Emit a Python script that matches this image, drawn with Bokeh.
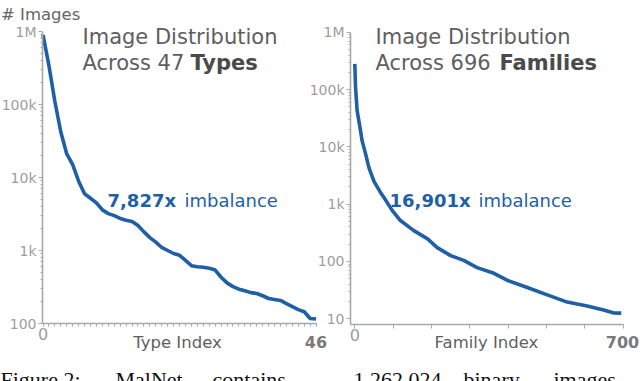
import math
from bokeh.plotting import figure
from bokeh.layouts import row
from bokeh.models import Range1d, FixedTicker, CustomJSTickFormatter, Label
from bokeh.embed import file_html
from bokeh.resources import INLINE

# ---------------- data ----------------
type_index = list(range(47))
type_counts = [900000, 340000, 110000, 42000, 21000, 15000, 8900, 6000, 5200, 4500,
               3600, 3200, 3000, 2750, 2600, 2500, 2200, 1800, 1500, 1300,
               1100, 1000, 910, 860, 730, 620, 600, 590, 570, 540,
               430, 360, 320, 295, 280, 265, 258, 240, 220, 213,
               207, 187, 170, 155, 145, 117, 115]

family_index = [0, 2, 6, 15, 19, 28, 37, 50, 67, 76, 98, 119, 154, 189, 215, 250,
                284, 319, 363, 397, 450, 502, 554, 606, 649, 676, 695]
family_counts = [280000, 108000, 43000, 19000, 12800, 7600, 4300, 2500, 1600, 1300,
                 770, 516, 345, 250, 174, 126, 104, 78, 62, 47, 35, 26, 19.5,
                 16.6, 14.2, 12.6, 12.5]

left_y_ticks = [100, 1e3, 1e4, 1e5, 1e6]
right_y_ticks = [10, 100, 1e3, 1e4, 1e5, 1e6]
right_x_ticks = [0, 100, 200, 300, 400, 500, 600, 700]

# ---------------- style ----------------
BLUE = "#1f5fa8"
TITLE = "#5e5e5e"
TITLE_BOLD = "#4a4a4a"
TICK = "#9d9d9d"
AXIS = "#a9a9a9"
FONT = "DejaVu Sans"
SERIF = "Liberation Serif"
H = 381

fmt_code = """
if (tick >= 1e6) return (tick/1e6).toFixed(0) + 'M';
if (tick >= 1e3) return (tick/1e3).toFixed(0) + 'k';
return tick.toFixed(0);
"""


def ranges(width, x_at_px, x_per_px, y_top_val, y_top_px, px_per_decade):
    """Ranges spanning the whole canvas, from a known x origin / scale and log-y calibration."""
    x0 = -x_at_px / x_per_px
    x1 = (width - x_at_px) / x_per_px
    lt = math.log10(y_top_val) + y_top_px / px_per_decade
    lb = math.log10(y_top_val) - (H - y_top_px) / px_per_decade
    return (x0, x1), (10 ** lb, 10 ** lt)


def make_fig(width, xr, yr, y_axis_x, x_axis_y, xb, yb):
    p = figure(width=width, height=H, x_range=Range1d(*xr), y_range=Range1d(*yr),
               y_axis_type="log", output_backend="svg", toolbar_location=None,
               min_border=0, min_border_left=0, min_border_right=0,
               min_border_top=0, min_border_bottom=0)
    p.grid.visible = False
    p.outline_line_color = None
    p.background_fill_color = None
    p.border_fill_color = None
    for ax in (p.xaxis[0], p.yaxis[0]):
        ax.axis_line_color = AXIS
        ax.axis_line_width = 1.6
        ax.major_tick_line_color = AXIS
        ax.minor_tick_line_color = AXIS
        ax.major_tick_in = 0
        ax.minor_tick_in = 0
        ax.major_label_text_font = FONT
        ax.major_label_text_color = TICK
    ya = p.yaxis[0]
    ya.fixed_location = y_axis_x
    ya.bounds = yb
    ya.major_tick_out = 4
    ya.minor_tick_out = 2
    ya.major_label_text_font_size = "14px"
    ya.major_label_standoff = 2
    ya.formatter = CustomJSTickFormatter(code=fmt_code)
    xa = p.xaxis[0]
    xa.fixed_location = x_axis_y
    xa.bounds = xb
    xa.major_tick_out = 3
    xa.minor_tick_out = 3
    xa.major_label_text_font_size = "16px"
    xa.major_label_standoff = 1
    xa.formatter = CustomJSTickFormatter(code="return tick == 0 ? '0' : '';")
    return p


def add_text(p, origin, X, Y, text, size, color, bold=False, font=FONT, align="left",
             baseline="alphabetic"):
    # X, Y: page pixel position of the text anchor (frame covers the whole canvas)
    p.add_layout(Label(x=X - origin, y=H - Y, x_units="screen", y_units="screen",
                       text=text, text_font=font, text_font_size=size,
                       text_color=color, text_font_style="bold" if bold else "normal",
                       text_align=align, text_baseline=baseline))


def add_caption(p, origin, X, text):
    add_text(p, origin, X, 379, text, "22px", "#111111", font=SERIF, baseline="middle")


# ---------------- left chart (types) ----------------
L_ORIGIN, L_W = 0, 336
L_PX = 5.937                       # pixels per type index
lxr, lyr = ranges(L_W, 42.5, L_PX, 1e6, 31, 73.0)
l_axis_x = (42 - 42.5) / L_PX
p1 = make_fig(L_W, lxr, lyr, l_axis_x, 100, (l_axis_x, 46.05), (100, 1e6))
p1.yaxis[0].ticker = FixedTicker(ticks=left_y_ticks,
                                 minor_ticks=[m * 10 ** d for d in range(2, 6) for m in range(2, 10)])
p1.xaxis[0].ticker = FixedTicker(ticks=[0, 46], minor_ticks=type_index)
p1.line(type_index, type_counts, line_width=3.6, color=BLUE, line_join="round")

add_text(p1, L_ORIGIN, 0.5, 14, "# Images", "16.5px", "#666666")
add_text(p1, L_ORIGIN, 82, 36, "Image Distribution", "21px", TITLE)
add_text(p1, L_ORIGIN, 82, 62.5, "Across 47", "21px", TITLE)
add_text(p1, L_ORIGIN, 190, 62.5, "Types", "21px", TITLE_BOLD, bold=True)
add_text(p1, L_ORIGIN, 107, 200, "7,827x", "18px", BLUE, bold=True)
add_text(p1, L_ORIGIN, 184, 200, "imbalance", "18px", BLUE)
add_text(p1, L_ORIGIN, 315.5, 341, "46", "16px", "#7a7a7a", bold=True, align="center")
add_text(p1, L_ORIGIN, 177, 342, "Type Index", "16.5px", "#606060", align="center")
add_caption(p1, L_ORIGIN, 0, "Figure 2:")
add_caption(p1, L_ORIGIN, 115, "MalNet")
add_caption(p1, L_ORIGIN, 212, "contains")

# ---------------- right chart (families) ----------------
R_ORIGIN, R_W = 306, 334           # right figure overlaps the left one by 30 px
R_PX = 0.3834                      # pixels per family index
rxr, ryr = ranges(R_W, 354.3 - R_ORIGIN, R_PX, 1e6, 31.7, 57.3)
r_axis_x = (350 - 354.3) / R_PX
r_axis_y = 10 ** (6 - (323.5 - 31.7) / 57.3)
p2 = make_fig(R_W, rxr, ryr, r_axis_x, r_axis_y, (r_axis_x, 700), (r_axis_y, 1e6))
p2.yaxis[0].ticker = FixedTicker(ticks=right_y_ticks,
                                 minor_ticks=[m * 10 ** d for d in range(1, 6) for m in range(2, 10)])
p2.xaxis[0].ticker = FixedTicker(ticks=right_x_ticks, minor_ticks=[])
p2.xaxis[0].major_tick_out = 4
p2.line(family_index, family_counts, line_width=3.6, color=BLUE, line_join="round")

add_text(p2, R_ORIGIN, 375, 36, "Image Distribution", "21px", TITLE)
add_text(p2, R_ORIGIN, 375, 62.5, "Across 696", "21px", TITLE)
add_text(p2, R_ORIGIN, 499, 62.5, "Families", "21px", TITLE_BOLD, bold=True)
add_text(p2, R_ORIGIN, 389, 200, "16,901x", "18px", BLUE, bold=True)
add_text(p2, R_ORIGIN, 478, 200, "imbalance", "18px", BLUE)
add_text(p2, R_ORIGIN, 622, 341, "700", "16px", "#7a7a7a", bold=True, align="center")
add_text(p2, R_ORIGIN, 486, 342, "Family Index", "16.5px", "#606060", align="center")
add_caption(p2, R_ORIGIN, 353, "1,262,024")
add_caption(p2, R_ORIGIN, 463, "binary")
add_caption(p2, R_ORIGIN, 553, "images")

p2.margin = (0, 0, 0, -30)
layout = row(p1, p2)

open("out.html", "w").write(file_html(layout, INLINE))
